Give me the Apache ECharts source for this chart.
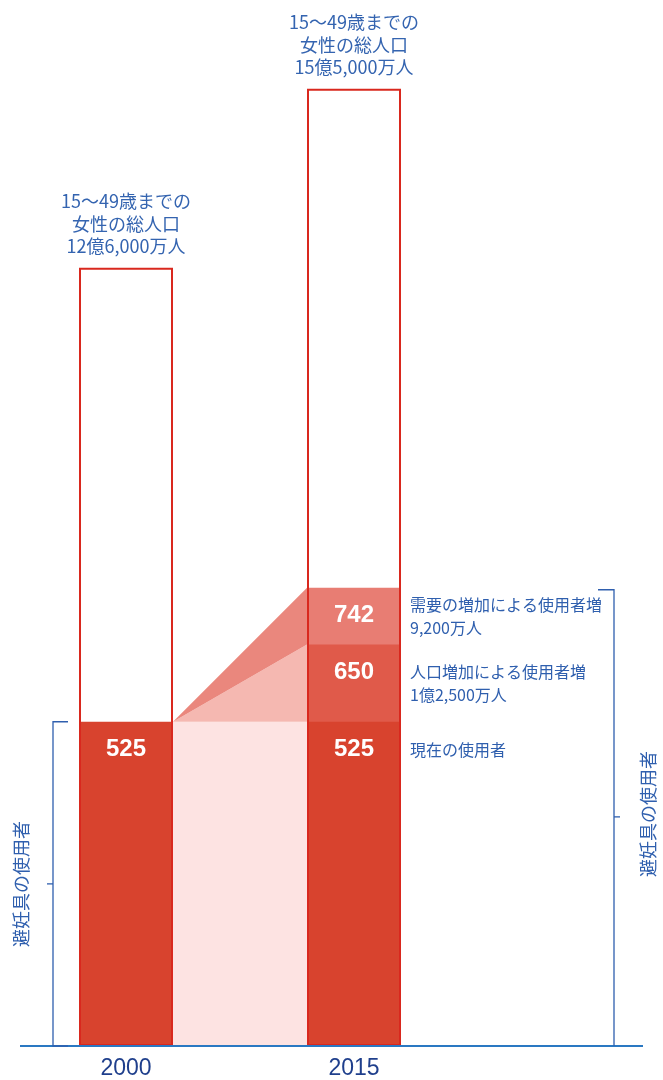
<!DOCTYPE html>
<html>
<head>
<meta charset="utf-8">
<script src="https://cdn.jsdelivr.net/npm/echarts@6/dist/echarts.min.js"></script>
<style>
  html, body { margin: 0; padding: 0; background: #fff; }
  #chart { width: 663px; height: 1080px; }
</style>
</head>
<body>
<div id="chart"></div>
<script>
// Years on the horizontal axis
const years = ['2000', '2015'];

// Women aged 15-49, in millions
const womenTotal = [1260, 1550];
const womenTotalText = ['12億6,000万人', '15億5,000万人'];

// Contraceptive users (cumulative levels, millions)
const usersCurrent = [525, 525];      // 現在の使用者
const usersPopGrowth = [null, 650];   // + 人口増加による使用者増
const usersDemand = [null, 742];      // + 需要の増加による使用者増

// Notes beside the 2015 bar
const noteLevels = [742, 650, 525];
const noteTexts = [
  '需要の増加による使用者増\n9,200万人',
  '人口増加による使用者増\n1億2,500万人',
  '現在の使用者'
];

// Bands joining the 2000 bar to the 2015 bar:
// [fromIndex, toIndex, fromLow, fromHigh, toLow, toHigh]
const flows = [
  [0, 1, 0, 525, 0, 525],
  [0, 1, 525, 525, 525, 650],
  [0, 1, 525, 525, 650, 742]
];
const flowColors = ['#fde3e2', '#f5b8b1', '#ea877d'];

const sideLabel = '避妊具の使用者';

const BAR_W = 94;
const BLUE = '#2f5fae';
const CJK = '"Noto Sans CJK JP", "Noto Sans", sans-serif';

const chart = echarts.init(document.getElementById('chart'));

const segLabel = {
  show: true,
  position: 'insideTop',
  distance: 16,
  color: '#fff',
  fontSize: 24,
  fontWeight: 'bold',
  fontFamily: '"Liberation Sans", Arial, sans-serif'
};

chart.setOption({
  animation: false,
  grid: { left: 12, right: 195, top: 27, bottom: 32, containLabel: false },
  xAxis: {
    type: 'category',
    data: years,
    axisLine: { show: false },
    axisTick: { show: false },
    axisLabel: {
      margin: 11,
      fontSize: 23,
      color: '#1f3f8c',
      fontFamily: '"Liberation Sans", Arial, sans-serif'
    }
  },
  yAxis: { type: 'value', min: 0, max: 1650, show: false },
  series: [
    {
      type: 'custom',
      z: 1,
      data: flows,
      encode: { x: 0, y: 3 },
      renderItem: function (params, api) {
        const fromX = api.coord([api.value(0), 0])[0] + BAR_W / 2;
        const toX = api.coord([api.value(1), 0])[0] - BAR_W / 2;
        const y = v => api.coord([0, v])[1];
        const pts = [
          [fromX, y(api.value(2))],
          [fromX, y(api.value(3))],
          [toX, y(api.value(5))],
          [toX, y(api.value(4))]
        ];
        return {
          type: 'polygon',
          shape: { points: pts },
          style: { fill: flowColors[params.dataIndex] }
        };
      }
    },
    {
      type: 'bar', z: 2, barWidth: BAR_W, barGap: '-100%',
      data: usersDemand,
      itemStyle: { color: '#e87d73' },
      label: Object.assign({}, segLabel, { formatter: p => p.value })
    },
    {
      type: 'bar', z: 2, barWidth: BAR_W, barGap: '-100%',
      data: usersPopGrowth,
      itemStyle: { color: '#e05a4a' },
      label: Object.assign({}, segLabel, { formatter: p => p.value })
    },
    {
      type: 'bar', z: 2, barWidth: BAR_W, barGap: '-100%',
      data: usersCurrent,
      itemStyle: { color: '#d8432e' },
      label: Object.assign({}, segLabel, { formatter: p => p.value })
    },
    {
      type: 'bar', z: 3, barWidth: BAR_W, barGap: '-100%',
      data: womenTotal,
      itemStyle: { color: 'rgba(0,0,0,0)', borderColor: '#d9281e', borderWidth: 2 },
      label: {
        show: true,
        position: 'top',
        distance: 10,
        color: '#3464b0',
        fontSize: 18,
        lineHeight: 22.5,
        fontFamily: CJK,
        formatter: p => '15～49歳までの\n女性の総人口\n' + womenTotalText[p.dataIndex]
      }
    }
  ]
});

// Baseline, brackets and notes placed against the value axis
const yPx = v => chart.convertToPixel({ yAxisIndex: 0 }, v);
const x2015 = chart.convertToPixel({ xAxisIndex: 0 }, '2015');
const base = yPx(0);
const lineStyle = { stroke: BLUE, lineWidth: 1.3 };

const graphics = [];
graphics.push({ type: 'line', shape: { x1: 20, y1: base, x2: 643, y2: base }, style: { stroke: '#2a78c2', lineWidth: 2 }, z: 10 });

// Left bracket: users in 2000
const lTop = yPx(usersCurrent[0]);
const lMid = (lTop + base) / 2;
graphics.push({ type: 'polyline', shape: { points: [[68, lTop], [53, lTop], [53, base], [68, base]] }, style: Object.assign({ fill: null }, lineStyle), z: 10 });
graphics.push({ type: 'line', shape: { x1: 47, y1: lMid, x2: 53, y2: lMid }, style: lineStyle, z: 10 });
graphics.push({
  type: 'text', x: 21, y: lMid, rotation: Math.PI / 2, z: 10,
  style: { text: sideLabel, fill: BLUE, fontSize: 18, fontFamily: CJK, align: 'center', verticalAlign: 'middle' }
});

// Right bracket: users in 2015
const rTop = yPx(usersDemand[1]);
const rMid = (rTop + base) / 2;
graphics.push({ type: 'polyline', shape: { points: [[598, rTop + 2], [614, rTop + 2], [614, base]] }, style: Object.assign({ fill: null }, lineStyle), z: 10 });
graphics.push({ type: 'line', shape: { x1: 614, y1: rMid, x2: 620, y2: rMid }, style: lineStyle, z: 10 });
graphics.push({
  type: 'text', x: 648, y: rMid - 3, rotation: Math.PI / 2, z: 10,
  style: { text: sideLabel, fill: BLUE, fontSize: 18, fontFamily: CJK, align: 'center', verticalAlign: 'middle' }
});

// Notes beside the 2015 segments
const noteOffsets = [6, 16, 17];
noteLevels.forEach((v, i) => {
  graphics.push({
    type: 'text', x: x2015 + BAR_W / 2 + 9, y: yPx(v) + noteOffsets[i], z: 10,
    style: { text: noteTexts[i], fill: BLUE, fontSize: 16, lineHeight: 23, fontFamily: CJK, verticalAlign: 'top' }
  });
});

chart.setOption({ graphic: graphics });
</script>
</body>
</html>
